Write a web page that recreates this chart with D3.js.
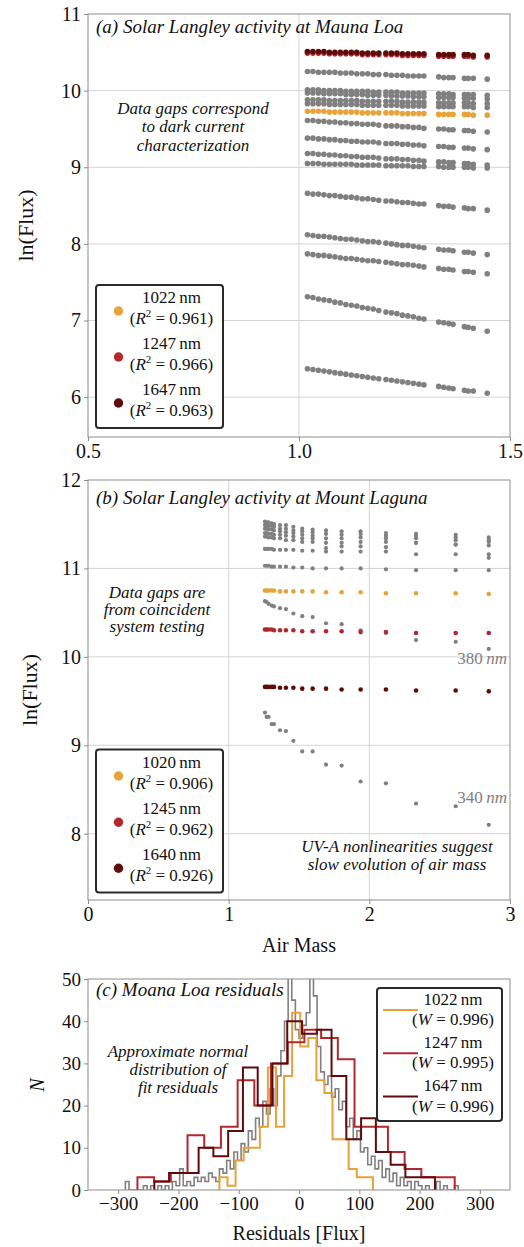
<!DOCTYPE html>
<html>
<head>
<meta charset="utf-8">
<title>Solar Langley activity</title>
<script src="https://cdn.jsdelivr.net/npm/d3@7/dist/d3.min.js"></script>
<style>
  body { margin: 0; background: #fff; }
  text { font-family: "Liberation Serif", "Times New Roman", serif; fill: #111; }
</style>
</head>
<body>
<svg id="chart"></svg>
<script>
// ---------- panel (a): Mauna Loa ----------
const airMassA = [1.02, 1.033, 1.046, 1.059, 1.072, 1.085, 1.098, 1.111, 1.124, 1.137, 1.15, 1.163, 1.176, 1.189,
  1.206, 1.219, 1.232, 1.245, 1.258, 1.271, 1.284, 1.296, 1.331, 1.343, 1.355, 1.365, 1.392, 1.401, 1.413, 1.446];

const lnFlux1647A = [10.51,10.51,10.51,10.51,10.50,10.50,10.50,10.50,10.50,10.50,10.49,10.49,10.49,10.49,10.49,10.49,10.49,10.48,10.48,10.48,10.48,10.48,10.47,10.47,10.47,10.47,10.47,10.47,10.46,10.46];
const lnFlux1247A = [10.49,10.49,10.49,10.49,10.48,10.48,10.48,10.48,10.48,10.48,10.47,10.47,10.47,10.47,10.47,10.47,10.47,10.46,10.46,10.46,10.46,10.46,10.45,10.45,10.45,10.45,10.45,10.45,10.44,10.44];
const lnFlux1022A = [9.73,9.73,9.73,9.73,9.72,9.72,9.72,9.72,9.72,9.72,9.71,9.71,9.71,9.71,9.71,9.71,9.71,9.70,9.70,9.70,9.70,9.70,9.69,9.69,9.69,9.69,9.69,9.69,9.68,9.68];

// the other detector channels, drawn in gray
const grayRowsA = [
  [10.25,10.25,10.24,10.24,10.24,10.24,10.23,10.23,10.23,10.22,10.22,10.22,10.21,10.21,10.21,10.20,10.20,10.20,10.19,10.19,10.19,10.19,10.18,10.17,10.17,10.17,10.16,10.16,10.16,10.15],
  [10.01,10.01,10.01,10.00,10.00,10.00,10.00,9.99,9.99,9.99,9.99,9.99,9.98,9.98,9.98,9.98,9.98,9.97,9.97,9.97,9.97,9.97,9.96,9.96,9.96,9.95,9.95,9.95,9.95,9.94],
  [9.97,9.97,9.97,9.96,9.96,9.96,9.96,9.95,9.95,9.95,9.95,9.94,9.94,9.94,9.94,9.93,9.93,9.93,9.93,9.92,9.92,9.92,9.91,9.91,9.91,9.91,9.90,9.90,9.90,9.89],
  [9.88,9.88,9.88,9.88,9.87,9.87,9.87,9.87,9.87,9.87,9.86,9.86,9.86,9.86,9.86,9.86,9.86,9.85,9.85,9.85,9.85,9.85,9.84,9.84,9.84,9.84,9.84,9.84,9.83,9.83],
  [9.83,9.83,9.83,9.83,9.82,9.82,9.82,9.82,9.82,9.82,9.81,9.81,9.81,9.81,9.81,9.81,9.81,9.80,9.80,9.80,9.80,9.80,9.79,9.79,9.79,9.79,9.79,9.79,9.78,9.78],
  [9.61,9.61,9.60,9.60,9.59,9.59,9.58,9.58,9.57,9.57,9.56,9.56,9.56,9.55,9.54,9.54,9.54,9.53,9.53,9.52,9.52,9.51,9.50,9.50,9.49,9.49,9.48,9.48,9.47,9.46],
  [9.38,9.38,9.37,9.37,9.36,9.36,9.35,9.35,9.34,9.34,9.33,9.33,9.33,9.32,9.31,9.31,9.31,9.30,9.30,9.29,9.29,9.28,9.27,9.27,9.26,9.26,9.25,9.25,9.24,9.23],
  [9.18,9.18,9.17,9.17,9.16,9.16,9.15,9.15,9.14,9.14,9.13,9.13,9.13,9.12,9.11,9.11,9.11,9.10,9.10,9.09,9.09,9.08,9.07,9.07,9.06,9.06,9.05,9.05,9.04,9.03],
  [9.05,9.05,9.05,9.04,9.04,9.04,9.04,9.04,9.04,9.03,9.03,9.03,9.03,9.03,9.02,9.02,9.02,9.02,9.02,9.01,9.01,9.01,9.01,9.00,9.00,9.00,9.00,9.00,8.99,8.99],
  [8.66,8.65,8.65,8.64,8.63,8.63,8.62,8.61,8.61,8.60,8.59,8.59,8.58,8.57,8.56,8.56,8.55,8.54,8.54,8.53,8.52,8.52,8.50,8.49,8.49,8.48,8.47,8.46,8.46,8.44],
  [8.12,8.11,8.10,8.10,8.09,8.08,8.07,8.06,8.06,8.05,8.04,8.03,8.03,8.02,8.01,8.00,7.99,7.98,7.98,7.97,7.96,7.95,7.93,7.92,7.92,7.91,7.89,7.89,7.88,7.86],
  [7.87,7.86,7.85,7.85,7.84,7.83,7.82,7.81,7.81,7.80,7.79,7.78,7.78,7.77,7.76,7.75,7.74,7.73,7.73,7.72,7.71,7.70,7.68,7.67,7.67,7.66,7.64,7.64,7.63,7.61],
  [7.31,7.30,7.28,7.27,7.26,7.24,7.23,7.21,7.20,7.19,7.17,7.16,7.15,7.13,7.11,7.10,7.09,7.07,7.06,7.05,7.03,7.02,6.98,6.97,6.96,6.95,6.92,6.91,6.90,6.86],
  [6.37,6.36,6.35,6.34,6.33,6.32,6.31,6.30,6.29,6.28,6.27,6.26,6.25,6.24,6.23,6.22,6.21,6.20,6.19,6.18,6.17,6.16,6.14,6.13,6.12,6.11,6.09,6.08,6.08,6.05]
];

// ---------- panel (b): Mount Laguna ----------
const airMassB = [1.258, 1.27, 1.284, 1.306, 1.322, 1.365, 1.407, 1.46, 1.523, 1.597, 1.692, 1.803, 1.938, 2.118, 2.332, 2.614, 2.849];

const lnFlux1020B = [10.75,10.75,10.75,10.75,10.75,10.74,10.74,10.74,10.74,10.74,10.73,10.73,10.73,10.72,10.72,10.72,10.71];
const lnFlux1245B = [10.31,10.31,10.31,10.31,10.30,10.30,10.30,10.30,10.29,10.29,10.29,10.29,10.28,10.28,10.27,10.27,10.27];
const lnFlux1640B = [9.66,9.66,9.66,9.66,9.66,9.65,9.65,9.65,9.64,9.64,9.64,9.63,9.63,9.63,9.62,9.62,9.61];
const lnFlux380B = [10.63,10.62,10.60,10.58,10.57,10.55,10.54,10.49,10.46,10.45,10.38,10.37,10.30,10.27,10.19,10.17,10.09];
const lnFlux340B = [9.37,9.32,9.32,9.24,9.24,9.17,9.16,9.05,8.93,8.93,8.78,8.77,8.59,8.57,8.34,8.31,8.10];

const grayRowsB = [
  [11.53,11.52,11.52,11.51,11.50,11.49,11.49,11.47,11.45,11.44,11.43,11.42,11.42,11.40,11.39,11.38,11.35],
  [11.49,11.49,11.48,11.48,11.47,11.45,11.45,11.43,11.42,11.41,11.39,11.38,11.39,11.37,11.37,11.35,11.32],
  [11.45,11.45,11.44,11.44,11.43,11.42,11.41,11.40,11.38,11.37,11.34,11.34,11.35,11.34,11.34,11.32,11.30],
  [11.40,11.40,11.39,11.39,11.38,11.38,11.37,11.36,11.34,11.34,11.29,11.29,11.30,11.30,11.29,11.27,11.26],
  [11.36,11.36,11.35,11.35,11.34,11.34,11.32,11.32,11.30,11.30,11.23,11.25,11.25,11.24,11.29,11.27,11.16],
  [11.22,11.22,11.22,11.22,11.21,11.21,11.21,11.21,11.20,11.20,11.19,11.19,11.19,11.19,11.16,11.16,11.12],
  [11.03,11.03,11.03,11.02,11.02,11.02,11.02,11.01,11.01,11.00,11.00,11.00,11.00,10.99,10.98,10.98,10.98]
];

// ---------- panel (c): residual histograms ----------
const bins1022 = { start: -132, width: 13.4 };
const counts1022 = [3,1,7,10,10,15,29,15,27,42,34,36,26,23,12,12,5,3,3];
const bins1247 = { start: -268, width: 27.7 };
const counts1247 = [3,2,4,13,10,15,26,20,30,35,38,36,31,15,15,9,5,3,3];
const bins1647 = { start: -240, width: 24.5 };
const counts1647 = [2,4,4,10,8,14,29,20,30,40,37,38,27,12,17,9,6,3,3];
const binsAll = { start: -288, width: 6 };
const countsAll = [2,0,0,0,0,1,0,1,0,1, 0,1,0,2,1,5,1,2,1,3, 2,3,2,4,3,2,5,4,7,5,
  9,7,11,9,14,12,17,15,21,18, 24,20,27,33,40,52,45,38,36,39, 42,52,46,34,28,25,27,22,24,19,
  21,15,17,12,14,9,10,6,8,5, 7,3,5,2,4,1,3,1,2,0, 2,1,0,1,0,0,2,0,1,0, 0,1];

// legends
const legendNmA = ['1022', '1247', '1647'], legendR2A = ['0.961', '0.966', '0.963'];
const legendNmB = ['1020', '1245', '1640'], legendR2B = ['0.906', '0.962', '0.926'];
const legendNmC = ['1022', '1247', '1647'], legendWC = ['0.996', '0.995', '0.996'];

// ticks
const ticksAX = [0.5, 1.0, 1.5], ticksAY = [6, 7, 8, 9, 10, 11];
const ticksBX = [0, 1, 2, 3], ticksBY = [8, 9, 10, 11, 12];
const ticksCX = [-300, -200, -100, 0, 100, 200, 300], ticksCY = [0, 10, 20, 30, 40, 50];

const GRAY = '#808080', C1022 = '#e8a23a', C1247 = '#b2282d', C1647 = '#600b0b';
const colors = [C1022, C1247, C1647];
const serif = '"Liberation Serif", "Times New Roman", serif';

const svg = d3.select('#chart').attr('width', 524).attr('height', 1247);

const xA = d3.scaleLinear().domain([0.5, 1.5]).range([88, 510]);
const yA = d3.scaleLinear().domain([5.48, 11]).range([437, 14]);
const xB = d3.scaleLinear().domain([0, 3]).range([88, 510]);
const yB = d3.scaleLinear().domain([7.25, 12]).range([900, 480]);
const xC = d3.scaleLinear().domain([-350, 350]).range([88, 510]);
const yC = d3.scaleLinear().domain([0, 50]).range([1190, 979]);

function styleAxis(sel, size) {
  sel.attr('font-family', serif).attr('font-size', size);
  sel.select('.domain').remove();
  sel.selectAll('.tick line').attr('stroke', '#8c8c8c');
  sel.selectAll('.tick text').attr('fill', '#111');
}

function axes(x, y, xt, yt, xFmt, size, grid) {
  const g = svg.append('g');
  const [left, right] = x.range();
  const [bottom, top] = y.range();
  if (grid) {
    g.selectAll(null).data(xt.filter(t => x(t) > left + 1 && x(t) < right - 1)).enter()
      .append('line')
      .attr('x1', d => x(d)).attr('x2', d => x(d))
      .attr('y1', top).attr('y2', bottom)
      .attr('stroke', '#d4d4d4');
    g.selectAll(null).data(yt.filter(t => y(t) > top + 1 && y(t) < bottom - 1)).enter()
      .append('line')
      .attr('x1', left).attr('x2', right)
      .attr('y1', d => y(d)).attr('y2', d => y(d))
      .attr('stroke', '#d4d4d4');
  }
  g.append('g').attr('transform', 'translate(0,' + bottom + ')')
    .call(d3.axisBottom(x).tickValues(xt).tickFormat(xFmt).tickSize(4).tickPadding(3))
    .call(s => styleAxis(s, size));
  g.append('g').attr('transform', 'translate(' + left + ',0)')
    .call(d3.axisLeft(y).tickValues(yt).tickFormat(d3.format('d')).tickSize(4).tickPadding(3))
    .call(s => styleAxis(s, size));
}

function frame(x, y) {
  const [left, right] = x.range();
  const [bottom, top] = y.range();
  svg.append('rect')
    .attr('x', left).attr('y', top)
    .attr('width', right - left).attr('height', bottom - top)
    .attr('fill', 'none').attr('stroke', '#8c8c8c');
}

function italicLines(lines, cx, y0, step, size) {
  lines.forEach((t, i) => {
    svg.append('text')
      .attr('x', cx).attr('y', y0 + i * step)
      .attr('text-anchor', 'middle').attr('font-style', 'italic')
      .attr('font-size', size).text(t);
  });
}

function statText(g, cx, y, sym, val, sup) {
  const t = g.append('text').attr('x', cx).attr('y', y)
    .attr('text-anchor', 'middle').attr('font-size', 17);
  t.append('tspan').text('(');
  t.append('tspan').attr('font-style', 'italic').text(sym);
  if (sup) t.append('tspan').attr('dy', -7).attr('font-size', 11).text('2');
  t.append('tspan').attr('dy', sup ? 7 : 0).text(' = ' + val + ')');
}

function dotLegend(x0, y0, names, r2, dotYs) {
  const g = svg.append('g');
  g.append('rect').attr('x', x0).attr('y', y0).attr('width', 127).attr('height', 143)
    .attr('rx', 3).attr('fill', '#fff').attr('stroke', '#2a2a2a').attr('stroke-width', 2);
  names.forEach((n, i) => {
    g.append('circle').attr('cx', x0 + 22.5).attr('cy', dotYs[i]).attr('r', 4.7).attr('fill', colors[i]);
    g.append('text').attr('x', x0 + 75.5).attr('y', dotYs[i] - 8)
      .attr('text-anchor', 'middle').attr('font-size', 17).text(n + '\u2009nm');
    statText(g, x0 + 75.5, dotYs[i] + 12.5, 'R', r2[i], true);
  });
}

function scatter(x, y, airMass, values, color, r) {
  svg.append('g').attr('fill', color)
    .selectAll('circle').data(values).enter()
    .append('circle')
    .attr('cx', (d, i) => x(airMass[i]))
    .attr('cy', d => y(d))
    .attr('r', r);
}

// ---------- draw (a) ----------
axes(xA, yA, ticksAX, ticksAY, d3.format('.1f'), 20, true);
grayRowsA.forEach(row => scatter(xA, yA, airMassA, row, GRAY, 2.8));
scatter(xA, yA, airMassA, lnFlux1022A, C1022, 2.8);
scatter(xA, yA, airMassA, lnFlux1247A, C1247, 2.8);
scatter(xA, yA, airMassA, lnFlux1647A, C1647, 2.8);
frame(xA, yA);

svg.append('text').attr('x', 96).attr('y', 33).attr('font-style', 'italic').attr('font-size', 19)
  .text('(a) Solar Langley activity at Mauna Loa');
italicLines(['Data gaps correspond', 'to dark current', 'characterization'], 193, 114, 18.3, 17);
dotLegend(96, 285, legendNmA, legendR2A, [311, 357, 403]);
svg.append('text').attr('transform', 'translate(33,225.5) rotate(-90)')
  .attr('text-anchor', 'middle').attr('font-size', 22).text('ln(Flux)');

// ---------- draw (b) ----------
axes(xB, yB, ticksBX, ticksBY, d3.format('d'), 20, true);
grayRowsB.forEach(row => scatter(xB, yB, airMassB, row, GRAY, 2.1));
scatter(xB, yB, airMassB, lnFlux380B, GRAY, 2.1);
scatter(xB, yB, airMassB, lnFlux340B, GRAY, 2.1);
scatter(xB, yB, airMassB, lnFlux1020B, C1022, 2.3);
scatter(xB, yB, airMassB, lnFlux1245B, C1247, 2.3);
scatter(xB, yB, airMassB, lnFlux1640B, C1647, 2.3);
frame(xB, yB);

svg.append('text').attr('x', 96).attr('y', 504).attr('font-style', 'italic').attr('font-size', 19)
  .text('(b) Solar Langley activity at Mount Laguna');
italicLines(['Data gaps are', 'from coincident', 'system testing'], 157, 598, 16.8, 17);
italicLines(['UV-A nonlinearities suggest', 'slow evolution of air mass'], 397, 852, 17.6, 17);
[['380', 664], ['340', 803]].forEach(([nm, y]) => {
  const t = svg.append('text').attr('x', 507).attr('y', y).attr('text-anchor', 'end')
    .attr('font-size', 17).style('fill', GRAY);
  t.append('tspan').text(nm + '\u2009');
  t.append('tspan').attr('font-style', 'italic').text('nm');
});
dotLegend(96, 749.5, legendNmB, legendR2B, [776, 822.3, 868.3]);
svg.append('text').attr('transform', 'translate(37,690) rotate(-90)')
  .attr('text-anchor', 'middle').attr('font-size', 22).text('ln(Flux)');
svg.append('text').attr('x', 299).attr('y', 952).attr('text-anchor', 'middle')
  .attr('font-size', 20).text('Air Mass');

// ---------- draw (c) ----------
axes(xC, yC, ticksCX, ticksCY, d3.format('d'), 19, false);

svg.append('clipPath').attr('id', 'clipC')
  .append('rect').attr('x', 88).attr('y', 979).attr('width', 422).attr('height', 211);

function stepPoints(bins, counts) {
  const pts = [[bins.start, 0]];
  counts.forEach((c, i) => {
    pts.push([bins.start + i * bins.width, c]);
    pts.push([bins.start + (i + 1) * bins.width, c]);
  });
  pts.push([bins.start + counts.length * bins.width, 0]);
  return pts;
}
const step = d3.line().x(d => xC(d[0])).y(d => yC(d[1]));
const gC = svg.append('g').attr('clip-path', 'url(#clipC)').attr('fill', 'none');
gC.append('path').attr('d', step(stepPoints(binsAll, countsAll)))
  .attr('stroke', GRAY).attr('stroke-width', 1.6);
[[bins1022, counts1022, C1022], [bins1247, counts1247, C1247], [bins1647, counts1647, C1647]]
  .forEach(([b, c, col]) => {
    gC.append('path').attr('d', step(stepPoints(b, c)))
      .attr('stroke', col).attr('stroke-width', 2);
  });
frame(xC, yC);

svg.append('text').attr('x', 96).attr('y', 996).attr('font-style', 'italic').attr('font-size', 19)
  .text('(c) Moana Loa residuals');
italicLines(['Approximate normal', 'distribution of', 'fit residuals'], 178, 1057, 18, 17);

const legC = svg.append('g');
legC.append('rect').attr('x', 377).attr('y', 988).attr('width', 125).attr('height', 133)
  .attr('rx', 3).attr('fill', '#fff').attr('stroke', '#2a2a2a').attr('stroke-width', 2);
legendNmC.forEach((n, i) => {
  const ly = 1010 + i * 43.3;
  legC.append('line').attr('x1', 383).attr('x2', 418).attr('y1', ly).attr('y2', ly)
    .attr('stroke', colors[i]).attr('stroke-width', 2);
  legC.append('text').attr('x', 453).attr('y', ly - 5.5)
    .attr('text-anchor', 'middle').attr('font-size', 17).text(n + '\u2009nm');
  statText(legC, 453, ly + 15, 'W', legendWC[i], false);
});

svg.append('text').attr('transform', 'translate(44,1085) rotate(-90)')
  .attr('text-anchor', 'middle').attr('font-style', 'italic').attr('font-size', 20).text('N');
svg.append('text').attr('x', 299).attr('y', 1240).attr('text-anchor', 'middle')
  .attr('font-size', 20).text('Residuals [Flux]');
</script>
</body>
</html>
